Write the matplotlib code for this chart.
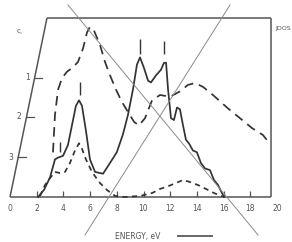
import matplotlib
matplotlib.use("Agg")
import matplotlib.pyplot as plt

# ── Data ─────────────────────────────────────────────────────────────────────

solid_x = [2.1, 2.55, 3.0, 3.37, 3.6, 3.97, 4.34, 4.64, 4.94, 5.17, 5.39, 5.69,
           5.99, 6.37, 6.97, 7.49, 8.0, 8.46, 8.84, 9.21, 9.51, 9.74, 10.04,
           10.34, 10.56, 10.94, 11.3, 11.54, 11.69, 11.84, 12.06, 12.28, 12.51,
           12.73, 12.96, 13.18, 13.4, 13.7, 14.0, 14.3, 14.6, 14.98, 15.28,
           15.58, 16.03]
solid_y = [0.0, 0.04, 0.11, 0.21, 0.22, 0.23, 0.29, 0.40, 0.51, 0.54, 0.51, 0.37,
           0.21, 0.14, 0.13, 0.19, 0.25, 0.35, 0.46, 0.60, 0.74, 0.78, 0.72,
           0.65, 0.64, 0.68, 0.71, 0.75, 0.75, 0.60, 0.44, 0.43, 0.50,
           0.49, 0.40, 0.32, 0.30, 0.26, 0.25, 0.19, 0.16, 0.15, 0.095,
           0.067, 0.0]

long_x = [3.22, 3.37, 3.6, 3.9, 4.27, 4.64, 5.09, 5.47, 5.77, 5.99, 6.29, 6.74,
          7.12, 7.49, 7.94, 8.39, 8.84, 9.29, 9.66, 10.11, 10.64, 11.24, 11.99,
          12.73, 13.33, 13.86, 14.46, 15.2, 16.25, 17.23, 18.13, 18.95, 19.33]
long_y = [0.25, 0.46, 0.60, 0.665, 0.70, 0.72, 0.754, 0.83, 0.92, 0.95, 0.93, 0.85,
          0.754, 0.68, 0.60, 0.53, 0.475, 0.42, 0.40, 0.44, 0.54, 0.57, 0.56,
          0.59, 0.626, 0.637, 0.615, 0.57, 0.50, 0.44, 0.385, 0.346, 0.31]

short_x = [2.25, 2.62, 3.0, 3.37, 3.75, 4.12, 4.49, 4.87, 5.17, 5.39, 5.69, 6.14,
           6.74, 7.27, 7.87, 8.6, 9.74, 10.64, 11.24, 11.84, 12.43, 12.96, 13.48,
           14.08, 14.68, 15.28, 16.03]
short_y = [0.005, 0.067, 0.106, 0.14, 0.134, 0.14, 0.19, 0.26, 0.30, 0.27, 0.21, 0.14,
           0.078, 0.039, 0.006, 0.0, 0.006, 0.022, 0.045, 0.06, 0.078, 0.095, 0.084,
           0.067, 0.045, 0.022, 0.0]

# short vertical markers above peaks: x, y_low, y_high
mark_x = [3.75, 5.24, 9.74, 11.54]
mark_lo = [0.25, 0.57, 0.80, 0.80]
mark_hi = [0.31, 0.64, 0.88, 0.87]

x_ticks = [0, 2, 4, 6, 8, 10, 12, 14, 16, 18, 20]
y_tick_vals = [0.665, 0.447, 0.223]
y_tick_labels = ["1", "2", "3"]

# ── Layout ───────────────────────────────────────────────────────────────────

INK = "#333333"
GREY = "#555555"
X_END = 19.55      # right edge of the box
SLANT = 2.77       # top of slanted left edge

fig = plt.figure(figsize=(2.92, 2.42), dpi=100)
fig.patch.set_facecolor("white")
ax = fig.add_axes([10 / 292, 45 / 242, 267 / 292, 179 / 242])
ax.set_xlim(0, 20)
ax.set_ylim(0, 1)
ax.axis("off")

frame = dict(color="#555555", lw=1.1, clip_on=False, solid_capstyle="butt")
ax.plot([0, X_END], [0, 0], **frame)
ax.plot([0, SLANT], [0, 1], **frame)
ax.plot([SLANT, X_END], [1, 1], **frame)
ax.plot([X_END, X_END], [0, 1], **frame)

# x ticks pointing inward, labels below
ax.vlines([t for t in x_ticks if 0 < t < X_END], 0, 0.033, color=GREY, lw=0.9)
for t in x_ticks:
    ax.text(t, -0.067, str(t), ha="center", va="center", fontsize=5.5,
            color=GREY, clip_on=False)

# ticks on the slanted axis
for v, lab in zip(y_tick_vals, y_tick_labels):
    xs = SLANT * v
    ax.plot([xs, xs + 0.55], [v, v], color=GREY, lw=0.9, clip_on=False)
    ax.text(xs - 0.55, v, lab, ha="center", va="center", fontsize=5.5,
            color=GREY, clip_on=False)

ax.text(0.75, 0.93, "c,", ha="center", va="center", fontsize=5, color=GREY)
ax.text(19.9, 0.944, "JDOS", ha="left", va="center", fontsize=4.5, color=GREY,
        clip_on=False)

# curves
ax.plot(solid_x, solid_y, color=INK, lw=1.25, clip_on=False)
ax.plot(long_x, long_y, color=INK, lw=1.25, dashes=(5.5, 3.5), clip_on=False)
ax.plot(short_x, short_y, color=INK, lw=1.25, dashes=(3, 2.5), clip_on=False)
ax.vlines(mark_x, mark_lo, mark_hi, color=INK, lw=1.0)

# crossing lines
cross = dict(color="#8a8a8a", lw=0.7, clip_on=False)
ax.plot([4.34, 18.58], [1.073, -0.212], **cross)
ax.plot([16.48, 5.62], [1.073, -0.212], **cross)

# axis caption with legend stroke
ax.text(7.87, -0.223, "ENERGY, eV", ha="left", va="center", fontsize=5.5,
        color=GREY, clip_on=False)
ax.plot([12.58, 15.13], [-0.218, -0.218], color="#666666", lw=1.4, clip_on=False)

fig.savefig("out.png", dpi=100)
